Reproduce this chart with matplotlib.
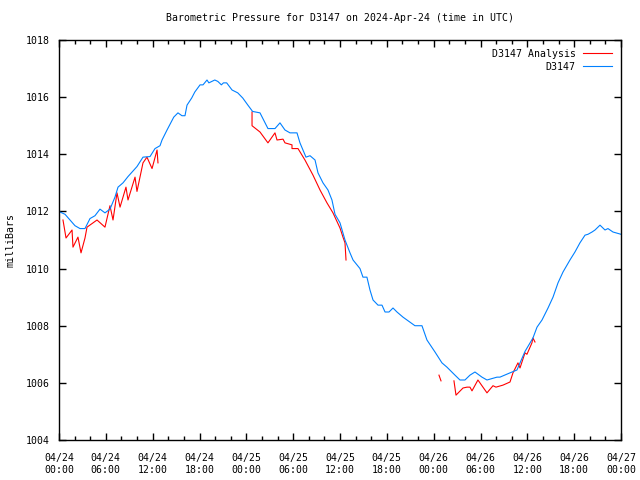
import numpy as np
import pandas as pd
import matplotlib
matplotlib.use("Agg")
import matplotlib.pyplot as plt
import matplotlib.dates as mdates

start = pd.Timestamp("2024-04-24 00:00")

# D3147 observations (hours after start, mb)
obs_hours = [0.0, 0.13, 0.77, 1.41, 2.05, 2.69, 3.33, 3.97, 4.61, 5.25, 5.89, 6.53,
             7.17, 7.56, 8.2, 8.84, 9.99, 10.76, 11.66, 12.3, 12.94, 13.2, 13.84,
             14.7, 15.24, 15.75, 16.14, 16.4, 17.0, 17.4, 18.07, 18.45, 18.96, 19.2,
             19.96, 20.35, 20.8, 21.07, 21.48, 22.17, 22.9, 23.54, 24.2, 24.8, 25.75,
             26.77, 27.67, 28.31, 28.95, 29.59, 30.49, 30.87, 31.64, 32.16, 32.8,
             33.18, 33.82, 34.46, 34.97, 35.36, 36.0, 36.64, 37.28, 37.67, 38.56,
             38.94, 39.45, 39.84, 40.23, 40.87, 41.38, 41.77, 42.28, 42.79, 43.3,
             44.07, 45.6, 46.5, 47.14, 48.17, 49.06, 49.7, 50.73, 51.37, 52.01,
             52.65, 53.29, 54.19, 54.83, 56.11, 56.49, 57.78, 58.67, 59.7, 60.72,
             61.24, 61.88, 62.65, 63.29, 63.93, 64.57, 65.46, 66.1, 66.74, 67.39,
             67.77, 68.29, 68.67, 69.31, 69.95, 70.33, 70.97, 72.0]
obs_mb = [1011.98, 1011.98, 1011.9, 1011.7, 1011.5, 1011.4, 1011.4, 1011.75, 1011.85,
          1012.08, 1011.95, 1012.08, 1012.5, 1012.85, 1013.0, 1013.22, 1013.57, 1013.9,
          1013.92, 1014.2, 1014.3, 1014.5, 1014.85, 1015.3, 1015.45, 1015.35, 1015.35,
          1015.72, 1015.97, 1016.18, 1016.43, 1016.43, 1016.6, 1016.5, 1016.6, 1016.55,
          1016.43, 1016.5, 1016.5, 1016.25, 1016.15, 1015.97, 1015.72, 1015.5, 1015.45,
          1014.9, 1014.9, 1015.1, 1014.85, 1014.75, 1014.75, 1014.4, 1013.9, 1013.95,
          1013.8, 1013.35, 1013.0, 1012.75, 1012.4, 1011.9, 1011.6, 1011.0, 1010.55,
          1010.3, 1010.0, 1009.7, 1009.7, 1009.25, 1008.9, 1008.72, 1008.72, 1008.48,
          1008.48, 1008.62, 1008.48, 1008.3, 1008.0, 1008.0, 1007.5, 1007.08, 1006.7,
          1006.55, 1006.27, 1006.1, 1006.1, 1006.27, 1006.38, 1006.2, 1006.1, 1006.2,
          1006.2, 1006.35, 1006.45, 1007.1, 1007.57, 1007.95, 1008.2, 1008.62, 1009.0,
          1009.5, 1009.88, 1010.3, 1010.58, 1010.9, 1011.17, 1011.2, 1011.28, 1011.35,
          1011.52, 1011.35, 1011.4, 1011.28, 1011.2]

# D3147 analysis segments (hours after start, mb)
ana1_hours = [0.51, 0.9, 1.67, 1.79, 2.43, 2.82, 3.33, 3.59, 4.36, 4.87, 5.89, 6.53,
              6.92, 7.43, 7.82, 8.58, 8.84, 9.74, 9.99, 10.76, 11.27, 11.92, 12.56, 12.68]
ana1_mb = [1011.7, 1011.07, 1011.35, 1010.75, 1011.1, 1010.55, 1011.07, 1011.45, 1011.6,
           1011.7, 1011.45, 1012.2, 1011.7, 1012.65, 1012.15, 1012.85, 1012.4, 1013.2,
           1012.7, 1013.7, 1013.9, 1013.5, 1014.15, 1013.7]
ana2_hours = [24.73, 24.73, 25.75, 26.77, 27.67, 27.93, 28.7, 28.95, 29.85, 29.85, 30.62,
              31.51, 32.54, 33.44, 34.33, 35.1, 36.0, 36.38, 36.64, 36.77]
ana2_mb = [1015.48, 1015.0, 1014.78, 1014.4, 1014.75, 1014.5, 1014.53, 1014.4, 1014.33,
           1014.2, 1014.2, 1013.8, 1013.27, 1012.75, 1012.3, 1011.95, 1011.42, 1011.1,
           1010.9, 1010.3]
ana3_hours = [48.68, 48.94]
ana3_mb = [1006.27, 1006.07]
ana4_hours = [50.6, 50.86, 51.76, 52.27, 52.65, 52.91, 53.67, 54.83, 55.6, 55.98, 56.87,
              57.78, 58.16, 58.8, 59.06, 59.7, 59.95, 60.59, 60.72, 60.98]
ana4_mb = [1006.07, 1005.57, 1005.82, 1005.85, 1005.85, 1005.72, 1006.1, 1005.65, 1005.9,
           1005.85, 1005.92, 1006.03, 1006.35, 1006.7, 1006.52, 1007.05, 1007.0, 1007.4,
           1007.57, 1007.43]


def to_time(hours):
    return start + pd.to_timedelta(hours, unit="h")


plt.rcParams["font.family"] = ["DejaVu Sans Mono"]
plt.rcParams["font.size"] = 7.1

fig = plt.figure(figsize=(6.4, 4.8), dpi=100)
ax = fig.add_axes([59 / 640, 40 / 480, 562 / 640, 400 / 480])

red = "#ff0000"
blue = "#0080ff"
first = True
for h, v in [(ana1_hours, ana1_mb), (ana2_hours, ana2_mb), (ana3_hours, ana3_mb), (ana4_hours, ana4_mb)]:
    ax.plot(to_time(h), v, color=red, lw=0.8, label="D3147 Analysis" if first else None)
    first = False
ax.plot(to_time(obs_hours), obs_mb, color=blue, lw=0.8, label="D3147")

ax.set_xlim(start, start + pd.Timedelta(hours=72))
ax.set_ylim(1004, 1018)
ax.set_yticks(np.arange(1004, 1019, 2))
ax.xaxis.set_major_locator(mdates.HourLocator(byhour=[0, 6, 12, 18]))
ax.xaxis.set_minor_locator(mdates.HourLocator(byhour=range(0, 24, 2)))
ax.xaxis.set_major_formatter(mdates.DateFormatter("%m/%d\n%H:%M"))
ax.tick_params(which="both", direction="in", top=True, right=True, color="black")
ax.tick_params(which="major", length=5, width=1)
ax.tick_params(axis="x", which="major", pad=9)
ax.tick_params(axis="y", which="major", pad=7)
ax.tick_params(which="minor", length=3, width=1)
for lbl in ax.get_xticklabels():
    lbl.set_linespacing(1.35)
for s in ax.spines.values():
    s.set_linewidth(1)

ax.set_ylabel("milliBars", labelpad=7)
ax.set_title("Barometric Pressure for D3147 on 2024-Apr-24 (time in UTC)", pad=14, fontsize=7.1)
ax.legend(loc="upper right", frameon=False, markerfirst=False, handlelength=3.0,
          handletextpad=0.7, borderaxespad=0.5, labelspacing=0.3)

fig.savefig("out.png", dpi=100)
